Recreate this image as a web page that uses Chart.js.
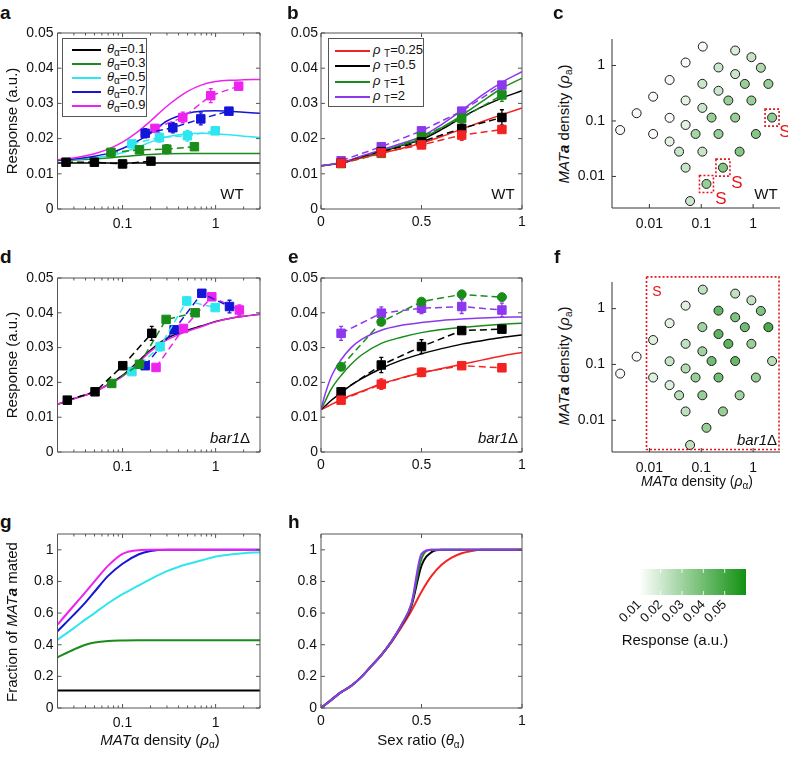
<!DOCTYPE html>
<html>
<head>
<meta charset="utf-8">
<script src="https://cdn.jsdelivr.net/npm/chart.js@4.4.1/dist/chart.umd.min.js"></script>
<style>
body { margin: 0; background: #fff; }
#fig { position: relative; width: 788px; height: 757px; overflow: hidden; font-family: "Liberation Sans", Arial, sans-serif; color: #111; }
canvas { position: absolute; }
.t { position: absolute; white-space: nowrap; font-size: 15px; line-height: 1; }
.c { transform: translate(-50%, -50%); }
.r { transform: translate(-50%, -50%) rotate(-90deg); }
.lab { font-weight: bold; font-size: 19px; }
sub { font-size: 10px; vertical-align: -3px; }
.lg { position: absolute; border: 1px solid #555; background: #fff; }
.lg .ln { position: absolute; height: 2px; }
.lg .lt { position: absolute; font-size: 13px; line-height: 1; white-space: nowrap; transform: translateY(-50%); }
.red { color: #e8141c; }
</style>
</head>
<body>
<div id="fig">
<canvas id="pa"></canvas><canvas id="pb"></canvas><canvas id="pc"></canvas>
<canvas id="pd"></canvas><canvas id="pe"></canvas><canvas id="pf"></canvas>
<canvas id="pg"></canvas><canvas id="ph"></canvas><canvas id="pbar"></canvas>

<div class="t lab" style="left:0px;top:3px">a</div>
<div class="t lab" style="left:287px;top:3px">b</div>
<div class="t lab" style="left:553px;top:3px">c</div>
<div class="t lab" style="left:0px;top:247px">d</div>
<div class="t lab" style="left:288px;top:247px">e</div>
<div class="t lab" style="left:554px;top:247px">f</div>
<div class="t lab" style="left:0px;top:512px">g</div>
<div class="t lab" style="left:288px;top:512px">h</div>

<div class="t r" style="left:11px;top:121px">Response (a.u.)</div>
<div class="t r" style="left:11px;top:365px">Response (a.u.)</div>
<div class="t r" style="left:565px;top:124px"><i>MAT<b>a</b></i> density (<i>ρ</i><sub>a</sub>)</div>
<div class="t r" style="left:565px;top:366px"><i>MAT<b>a</b></i> density (<i>ρ</i><sub>a</sub>)</div>
<div class="t r" style="left:11px;top:622px">Fraction of <i>MAT<b>a</b></i> mated</div>
<div class="t c" style="left:697px;top:482px;font-size:14px"><i>MAT</i>α density (<i>ρ</i><sub>α</sub>)</div>
<div class="t c" style="left:160px;top:741px"><i>MAT</i>α density (<i>ρ</i><sub>α</sub>)</div>
<div class="t c" style="left:421px;top:741px">Sex ratio (<i>θ</i><sub>α</sub>)</div>
<div class="t c" style="left:675px;top:639px">Response (a.u.)</div>

<div class="t c" style="left:232px;top:193px">WT</div>
<div class="t c" style="left:503px;top:193px">WT</div>
<div class="t c" style="left:766px;top:193px">WT</div>
<div class="t c" style="left:230px;top:437px"><i>bar1</i>Δ</div>
<div class="t c" style="left:498px;top:437px"><i>bar1</i>Δ</div>
<div class="t c" style="left:757px;top:439px"><i>bar1</i>Δ</div>

<div class="t c red" style="left:785px;top:131px;font-size:17px">S</div>
<div class="t c red" style="left:737px;top:182px;font-size:17px">S</div>
<div class="t c red" style="left:721px;top:198px;font-size:17px">S</div>
<div class="t c red" style="left:657px;top:291px;font-size:14px">S</div>

<div id="lega" class="lg" style="left:62px;top:38px;width:83px;height:77px"></div>
<div id="legb" class="lg" style="left:328px;top:38px;width:94px;height:67px"></div>
</div>

<script>
// ---- panel a / d : response vs MATalpha density, one curve per sex ratio theta
const thetaLabels = ['0.1', '0.3', '0.5', '0.7', '0.9'];
const thetaColors = ['#000000', '#1a8c1a', '#2ee6f0', '#1515d8', '#ee22ee'];
const densGrid = [0.02, 0.03, 0.05, 0.07, 0.1, 0.15, 0.2, 0.3, 0.5, 0.7, 1, 1.5, 2, 3];

const aFit01 = [0.0131, 0.0131, 0.0131, 0.0131, 0.0131, 0.0131, 0.0131, 0.0131, 0.0131, 0.0131, 0.0131, 0.0131, 0.0131, 0.0131];
const aFit03 = [0.0138, 0.0139, 0.0142, 0.0145, 0.0149, 0.0153, 0.0155, 0.0157, 0.0158, 0.0158, 0.0158, 0.0158, 0.0158, 0.0158];
const aFit05 = [0.0138, 0.0141, 0.0146, 0.0151, 0.0160, 0.0177, 0.0190, 0.0205, 0.0214, 0.0215, 0.0213, 0.0210, 0.0207, 0.0203];
const aFit07 = [0.0138, 0.0142, 0.0150, 0.0158, 0.0172, 0.0195, 0.0215, 0.0250, 0.0272, 0.0278, 0.0279, 0.0277, 0.0275, 0.0272];
const aFit09 = [0.0140, 0.0145, 0.0157, 0.0170, 0.0190, 0.0222, 0.0250, 0.0292, 0.0334, 0.0352, 0.0362, 0.0366, 0.0367, 0.0368];

const aX01 = [0.0247, 0.0498, 0.100, 0.202], aY01 = [0.0133, 0.0133, 0.0128, 0.0136], aE01 = [0.0004, 0.0004, 0.0004, 0.0007];
const aX03 = [0.0751, 0.152, 0.299, 0.592], aY03 = [0.0161, 0.0168, 0.0170, 0.0177], aE03 = [0.0010, 0.0010, 0.0013, 0.0005];
const aX05 = [0.126, 0.249, 0.498, 0.99], aY05 = [0.0185, 0.0203, 0.0208, 0.0222], aE05 = [0.0010, 0.0013, 0.0015, 0.0006];
const aX07 = [0.175, 0.347, 0.693, 1.39], aY07 = [0.0215, 0.0231, 0.0256, 0.0278], aE07 = [0.0013, 0.0015, 0.0017, 0.0005];
const aX09 = [0.223, 0.444, 0.887, 1.77], aY09 = [0.0229, 0.0260, 0.0322, 0.0349], aE09 = [0.0010, 0.0015, 0.0020, 0.0010];
const aXE03 = [0.006, 0.012, 0.025, 0.04];
const aXE05 = [0.010, 0.020, 0.040, 0.08];
const aXE07 = [0.014, 0.030, 0.050, 0.10];
const aXE09 = [0.015, 0.030, 0.060, 0.12];

const dFit01 = [0.0137, 0.0153, 0.0173, 0.0194, 0.0220, 0.0262, 0.0293, 0.0327, 0.0350, 0.0362, 0.0375, 0.0385, 0.0390, 0.0396];
const dFit09 = [0.0137, 0.0153, 0.0173, 0.0193, 0.0217, 0.0258, 0.0289, 0.0322, 0.0347, 0.0360, 0.0374, 0.0385, 0.0390, 0.0396];

const dX01 = [0.0255, 0.0506, 0.1005, 0.206], dY01 = [0.0149, 0.0173, 0.0248, 0.0341], dE01 = [0.0005, 0.0005, 0.0008, 0.0020];
const dX03 = [0.0765, 0.152, 0.294, 0.603], dY03 = [0.0197, 0.0252, 0.0381, 0.0400], dE03 = [0.0008, 0.0010, 0.0008, 0.0010];
const dX05 = [0.126, 0.253, 0.490, 0.99], dY05 = [0.0231, 0.0303, 0.0434, 0.0415], dE05 = [0.0008, 0.0012, 0.0012, 0.0008];
const dX07 = [0.175, 0.358, 0.711, 1.41], dY07 = [0.0248, 0.0351, 0.0456, 0.0418], dE07 = [0.0005, 0.0010, 0.0008, 0.0018];
const dX09 = [0.229, 0.451, 0.910, 1.80], dY09 = [0.0243, 0.0355, 0.0446, 0.0408], dE09 = [0.0005, 0.0008, 0.0008, 0.0015];

// ---- panel b / e : response vs sex ratio, one curve per total density rho_T
const rhoLabels = ['0.25', '0.5', '1', '2'];
const rhoColors = ['#f52222', '#000000', '#1a8c1a', '#8c38ee'];
const ratioPts = [0.1, 0.3, 0.5, 0.7, 0.9];
const bGrid = [0, 0.1, 0.2, 0.3, 0.4, 0.5, 0.6, 0.7, 0.8, 0.9, 1];
const bFit025 = [0.0123, 0.0130, 0.0145, 0.0158, 0.0172, 0.0187, 0.0206, 0.0227, 0.0248, 0.0268, 0.0287];
const bFit05 = [0.0123, 0.0131, 0.0148, 0.0163, 0.0180, 0.0197, 0.0226, 0.0260, 0.0290, 0.0315, 0.0336];
const bFit1 = [0.0123, 0.0131, 0.0149, 0.0165, 0.0182, 0.0200, 0.0231, 0.0266, 0.0305, 0.0343, 0.0372];
const bFit2 = [0.0123, 0.0132, 0.0150, 0.0168, 0.0186, 0.0206, 0.0240, 0.0280, 0.0323, 0.0360, 0.0390];
const bY025 = [0.0130, 0.0160, 0.0182, 0.0210, 0.0226], bE025 = [0.0004, 0.0006, 0.0008, 0.0015, 0.0008];
const bY05 = [0.0130, 0.0163, 0.0191, 0.0229, 0.0260], bE05 = [0.0004, 0.0006, 0.0008, 0.0012, 0.0022];
const bY1 = [0.0129, 0.0158, 0.0205, 0.0258, 0.0324], bE1 = [0.0004, 0.0006, 0.0008, 0.0010, 0.0018];
const bY2 = [0.0137, 0.0177, 0.0222, 0.0278, 0.0352], bE2 = [0.0005, 0.0006, 0.0008, 0.0008, 0.0008];

const eGrid = [0, 0.02, 0.05, 0.1, 0.15, 0.2, 0.3, 0.4, 0.5, 0.6, 0.7, 0.8, 0.9, 1];
const eFit025 = [0.0122, 0.0127, 0.0136, 0.0150, 0.0163, 0.0174, 0.0196, 0.0213, 0.0227, 0.0240, 0.0252, 0.0264, 0.0276, 0.0286];
const eFit05 = [0.0122, 0.0132, 0.0148, 0.0170, 0.0192, 0.0210, 0.0240, 0.0264, 0.0282, 0.0297, 0.0310, 0.0320, 0.0329, 0.0336];
const eFit1 = [0.0122, 0.0145, 0.0180, 0.0220, 0.0252, 0.0278, 0.0312, 0.0330, 0.0343, 0.0352, 0.0358, 0.0363, 0.0367, 0.0370];
const eFit2 = [0.0122, 0.0165, 0.0215, 0.0265, 0.0300, 0.0323, 0.0350, 0.0364, 0.0372, 0.0378, 0.0382, 0.0385, 0.0387, 0.0388];
const eY025 = [0.0149, 0.0195, 0.0229, 0.0248, 0.0242], eE025 = [0.0006, 0.0015, 0.0012, 0.0005, 0.0004];
const eY05 = [0.0173, 0.0250, 0.0303, 0.0349, 0.0353], eE05 = [0.0008, 0.0022, 0.0020, 0.0008, 0.0008];
const eY1 = [0.0245, 0.0374, 0.0432, 0.0453, 0.0445], eE1 = [0.0008, 0.0008, 0.0008, 0.0008, 0.0008];
const eY2 = [0.0341, 0.0399, 0.0413, 0.0418, 0.0408], eE2 = [0.0020, 0.0018, 0.0015, 0.0020, 0.0020];

// ---- panels c / f : density plane, colour = response
const alphaDensity = [0.107, 0.451, 0.927, 0.0499, 0.215, 0.451, 1.41, 0.0245, 0.105, 0.692, 1.97, 0.0118,
  0.215, 0.0499, 0.333, 0.927, 0.105, 0.00567, 0.0245, 0.158, 0.451, 2.32, 0.00273, 0.0499, 0.0118, 0.0777,
  0.215, 1.13, 0.0245, 0.0374, 0.105, 0.549, 0.0499, 0.262, 0.126, 0.0609];
const aDensity = [2.19, 1.86, 1.41, 1.13, 0.92, 0.70, 0.91, 0.548, 0.467, 0.465, 0.465, 0.274,
  0.35, 0.234, 0.234, 0.234, 0.172, 0.138, 0.114, 0.115, 0.115, 0.115, 0.0686, 0.0847, 0.0583, 0.0583,
  0.0583, 0.0583, 0.0426, 0.0280, 0.0280, 0.0280, 0.0144, 0.0144, 0.00733, 0.0036];
const wtResponse = [0.012, 0.018, 0.022, 0.012, 0.021, 0.021, 0.027, 0.012, 0.021, 0.032, 0.032, 0.012,
  0.021, 0.016, 0.032, 0.032, 0.021, 0.012, 0.012, 0.032, 0.032, 0.033, 0.012, 0.016, 0.012, 0.029,
  0.032, 0.036, 0.016, 0.022, 0.022, 0.036, 0.022, 0.036, 0.032, 0.021];
const bar1Response = [0.023, 0.023, 0.023, 0.017, 0.043, 0.037, 0.037, 0.016, 0.030, 0.040, 0.048, 0.017,
  0.044, 0.023, 0.044, 0.032, 0.030, 0.012, 0.022, 0.040, 0.042, 0.025, 0.012, 0.026, 0.017, 0.032,
  0.040, 0.032, 0.017, 0.025, 0.032, 0.030, 0.024, 0.032, 0.032, 0.023];
const wtSelected = [21, 33, 34];
const bar1Region = [0.0088, 3.3, 0.0030, 3.7];
const cbLow = 0.01, cbHigh = 0.06;
const cbTicks = [0.01, 0.02, 0.03, 0.04, 0.05];

// ---- panel g / h : fraction of MATa mated
const gGrid = [0.02, 0.03, 0.04, 0.05, 0.07, 0.1, 0.15, 0.2, 0.3, 0.5, 0.7, 1, 1.5, 2, 3];
const gTheta01 = [0.11, 0.11, 0.11, 0.11, 0.11, 0.11, 0.11, 0.11, 0.11, 0.11, 0.11, 0.11, 0.11, 0.11, 0.11];
const gTheta03 = [0.320, 0.370, 0.400, 0.414, 0.424, 0.427, 0.428, 0.428, 0.428, 0.428, 0.428, 0.428, 0.428, 0.428, 0.428];
const gTheta05 = [0.432, 0.505, 0.560, 0.600, 0.662, 0.720, 0.775, 0.815, 0.865, 0.910, 0.932, 0.958, 0.972, 0.979, 0.985];
const gTheta07 = [0.485, 0.590, 0.668, 0.735, 0.835, 0.912, 0.972, 0.992, 1, 1, 1, 1, 1, 1, 1];
const gTheta09 = [0.527, 0.648, 0.733, 0.800, 0.900, 0.975, 0.998, 1, 1, 1, 1, 1, 1, 1, 1];

const hGrid = [0, 0.05, 0.1, 0.15, 0.2, 0.25, 0.3, 0.35, 0.4, 0.45, 0.5, 0.55, 0.6, 0.65, 0.7, 0.75, 0.8, 0.9, 1];
const hRho025 = [0, 0.05, 0.10, 0.14, 0.195, 0.265, 0.335, 0.415, 0.51, 0.615, 0.735, 0.835, 0.905, 0.95, 0.978, 0.993, 1, 1, 1];
const hRho05 = [0, 0.05, 0.10, 0.14, 0.195, 0.265, 0.335, 0.42, 0.522, 0.645, 0.900, 0.985, 1, 1, 1, 1, 1, 1, 1];
const hRho1 = [0, 0.05, 0.10, 0.14, 0.195, 0.265, 0.335, 0.42, 0.525, 0.655, 0.945, 1, 1, 1, 1, 1, 1, 1, 1];
const hRho2 = [0, 0.05, 0.10, 0.14, 0.195, 0.265, 0.335, 0.42, 0.525, 0.660, 0.975, 1, 1, 1, 1, 1, 1, 1, 1];

// axis tick positions
const logTicks = [0.02, 0.03, 0.04, 0.05, 0.06, 0.07, 0.08, 0.09, 0.1, 0.2, 0.3, 0.4, 0.5, 0.6, 0.7, 0.8, 0.9, 1, 2, 3];
const respTicks = [0, 0.01, 0.02, 0.03, 0.04, 0.05];
const fracTicks = [0, 0.2, 0.4, 0.6, 0.8, 1];
const decadeTicks = [0.01, 0.1, 1];

const FONT = '"Liberation Sans", Arial, sans-serif';
Chart.defaults.font.family = FONT;
Chart.defaults.font.size = 14;
Chart.defaults.color = '#111';

function responseColor(r) {
    const t = Math.min(1, Math.max(0, (r - cbLow) / (cbHigh - cbLow)));
    return 'rgb(' + Math.round(255 - t * 237) + ',' + Math.round(255 - t * 110) + ',' + Math.round(255 - t * 237) + ')';
}

// box + inward tick marks, MATLAB style
const frame = {
    id: 'frame',
    afterDatasetsDraw(chart, args, o) {
        const ctx = chart.ctx, a = chart.chartArea;
        const xs = chart.scales.x, ys = chart.scales.y;
        ctx.save();
        ctx.strokeStyle = o.color || '#555';
        ctx.lineWidth = 1;
        ctx.beginPath();
        if (o.box) {
            ctx.rect(a.left, a.top, a.right - a.left, a.bottom - a.top);
        } else {
            ctx.moveTo(a.left, a.top);
            ctx.lineTo(a.left, a.bottom);
            ctx.lineTo(a.right, a.bottom);
        }
        xs.ticks.forEach(t => {
            const p = xs.getPixelForValue(t.value), len = t.label ? 4 : 2.5;
            ctx.moveTo(p, a.bottom); ctx.lineTo(p, a.bottom - len);
            if (o.box) { ctx.moveTo(p, a.top); ctx.lineTo(p, a.top + len); }
        });
        ys.ticks.forEach(t => {
            const p = ys.getPixelForValue(t.value), len = t.label ? 4 : 2.5;
            ctx.moveTo(a.left, p); ctx.lineTo(a.left + len, p);
            if (o.box) { ctx.moveTo(a.right, p); ctx.lineTo(a.right - len, p); }
        });
        ctx.stroke();
        ctx.restore();
    }
};

const errorBars = {
    id: 'errorBars',
    beforeDatasetsDraw(chart) {
        const ctx = chart.ctx, xs = chart.scales.x, ys = chart.scales.y;
        chart.data.datasets.forEach(ds => {
            if (!ds.errY) return;
            ctx.save();
            ctx.strokeStyle = ds.borderColor;
            ctx.lineWidth = 1.3;
            ctx.beginPath();
            ds.data.forEach((p, j) => {
                const px = xs.getPixelForValue(p.x), py = ys.getPixelForValue(p.y);
                const y1 = ys.getPixelForValue(p.y - ds.errY[j]), y2 = ys.getPixelForValue(p.y + ds.errY[j]);
                ctx.moveTo(px, y1); ctx.lineTo(px, y2);
                ctx.moveTo(px - 2, y1); ctx.lineTo(px + 2, y1);
                ctx.moveTo(px - 2, y2); ctx.lineTo(px + 2, y2);
                if (ds.errX && ds.errX[j]) {
                    ctx.moveTo(xs.getPixelForValue(p.x - ds.errX[j]), py);
                    ctx.lineTo(xs.getPixelForValue(p.x + ds.errX[j]), py);
                }
            });
            ctx.stroke();
            ctx.restore();
        });
    }
};

// red dotted selection boxes (panels c and f)
const selection = {
    id: 'selection',
    afterDatasetsDraw(chart, args, o) {
        const ctx = chart.ctx;
        ctx.save();
        ctx.strokeStyle = '#e8141c';
        ctx.lineWidth = 1.6;
        ctx.setLineDash([2, 2]);
        const meta = chart.getDatasetMeta(0);
        (o.points || []).forEach(i => {
            const el = meta.data[i];
            ctx.strokeRect(el.x - 7, el.y - 8.5, 14, 17);
        });
        if (o.region) {
            const xs = chart.scales.x, ys = chart.scales.y;
            const l = xs.getPixelForValue(o.region[0]), r = xs.getPixelForValue(o.region[1]);
            const b = ys.getPixelForValue(o.region[2]), t = ys.getPixelForValue(o.region[3]);
            ctx.strokeRect(l, t, r - l - 1, b - t);
        }
        ctx.restore();
    }
};

const colourBar = {
    id: 'colourBar',
    beforeDatasetsDraw(chart) {
        const ctx = chart.ctx, a = chart.chartArea, xs = chart.scales.x;
        const g = ctx.createLinearGradient(xs.getPixelForValue(cbLow), 0, xs.getPixelForValue(cbHigh), 0);
        g.addColorStop(0, responseColor(cbLow));
        g.addColorStop(1, responseColor(cbHigh));
        ctx.save();
        ctx.fillStyle = g;
        ctx.fillRect(a.left, a.top, a.right - a.left, a.bottom - a.top);
        ctx.strokeStyle = 'rgba(255,255,255,0.85)';
        ctx.beginPath();
        xs.ticks.forEach(t => {
            const p = xs.getPixelForValue(t.value);
            ctx.moveTo(p, a.top); ctx.lineTo(p, a.top + 4);
            ctx.moveTo(p, a.bottom); ctx.lineTo(p, a.bottom - 4);
        });
        ctx.stroke();
        ctx.restore();
    }
};

function axis(cfg, horizontal, size) {
    return {
        type: cfg.type, min: cfg.min, max: cfg.max,
        position: horizontal ? 'bottom' : 'left',
        display: !cfg.hidden,
        grid: { display: false, drawTicks: false },
        border: { display: false },
        afterBuildTicks: s => { s.ticks = cfg.ticks.map(v => ({ value: v })); },
        afterFit: s => {
            if (horizontal) { s.height = size; s.paddingLeft = 0; s.paddingRight = 0; }
            else { s.width = size; s.paddingTop = 0; s.paddingBottom = 0; }
        },
        ticks: {
            autoSkip: false, maxRotation: cfg.rot || 0, minRotation: cfg.rot || 0,
            padding: cfg.pad, font: { size: cfg.size || 14 },
            callback: v => cfg.labels.includes(v) ? String(v) : ''
        }
    };
}

// box = [x, y, w, h] of the canvas, area = [left, top, right, bottom] of the plot
function makeChart(id, box, area, datasets, xCfg, yCfg, opts, plugins) {
    const cv = document.getElementById(id);
    cv.width = box[2];
    cv.height = box[3];
    cv.style.left = box[0] + 'px';
    cv.style.top = box[1] + 'px';
    return new Chart(cv, {
        type: 'line',
        data: { datasets: datasets },
        options: {
            responsive: false, animation: false, devicePixelRatio: 1,
            layout: { padding: { left: yCfg.hidden ? area[0] - box[0] : 0, top: area[1] - box[1], right: box[0] + box[2] - area[2], bottom: 0 } },
            scales: { x: axis(xCfg, true, box[1] + box[3] - area[3]), y: axis(yCfg, false, area[0] - box[0]) },
            plugins: Object.assign({ legend: { display: false }, tooltip: { enabled: false } }, opts)
        },
        plugins: plugins
    });
}

function pts(xs, ys) { return xs.map((x, i) => ({ x: x, y: ys[i] })); }
function fit(xs, ys, color, order, width) {
    return { data: pts(xs, ys), borderColor: color, borderWidth: width || 1.5, pointRadius: 0,
        cubicInterpolationMode: 'monotone', order: order };
}
function measured(xs, ys, errY, color, shape, errX) {
    return { data: pts(xs, ys), borderColor: color, backgroundColor: color, borderWidth: 1.5,
        borderDash: [7, 4], pointStyle: shape || 'rect', pointRadius: shape === 'circle' ? 4.5 : 6,
        pointBackgroundColor: color, pointBorderColor: color, pointBorderWidth: 1,
        errY: errY, errX: errX, order: 1 };
}

const logX = { type: 'logarithmic', min: 0.02, max: 3, ticks: logTicks, labels: [0.1, 1], pad: 7 };
const linX = { type: 'linear', min: 0, max: 1, ticks: [0, 0.5, 1], labels: [0, 0.5, 1], pad: 7 };
const respY = { type: 'linear', min: 0, max: 0.05, ticks: respTicks, labels: respTicks, pad: 4 };
const fracY = { type: 'linear', min: 0, max: 1.1, ticks: fracTicks, labels: fracTicks, pad: 4 };
const planeX = { type: 'logarithmic', min: 0.0019, max: 3.3, ticks: decadeTicks, labels: decadeTicks, pad: 8 };
const planeY = { type: 'logarithmic', min: 0.0027, max: 3.0, ticks: decadeTicks, labels: decadeTicks, pad: 7 };
const boxed = { frame: { box: true } };

// a
makeChart('pa', [18, 20, 252, 220], [57.5, 33, 260, 209], [
    measured(aX01, aY01, aE01, thetaColors[0]),
    measured(aX03, aY03, aE03, thetaColors[1], 'rect', aXE03),
    measured(aX05, aY05, aE05, thetaColors[2], 'rect', aXE05),
    measured(aX07, aY07, aE07, thetaColors[3], 'rect', aXE07),
    measured(aX09, aY09, aE09, thetaColors[4], 'rect', aXE09),
    fit(densGrid, aFit01, thetaColors[0], 6),
    fit(densGrid, aFit03, thetaColors[1], 5),
    fit(densGrid, aFit05, thetaColors[2], 4),
    fit(densGrid, aFit07, thetaColors[3], 3),
    fit(densGrid, aFit09, thetaColors[4], 2)
], logX, respY, boxed, [errorBars, frame]);

// b
makeChart('pb', [280, 20, 252, 220], [321, 33, 522, 209], [
    measured(ratioPts, bY025, bE025, rhoColors[0]),
    measured(ratioPts, bY05, bE05, rhoColors[1]),
    measured(ratioPts, bY1, bE1, rhoColors[2]),
    measured(ratioPts, bY2, bE2, rhoColors[3]),
    fit(bGrid, bFit025, rhoColors[0], 5),
    fit(bGrid, bFit05, rhoColors[1], 4),
    fit(bGrid, bFit1, rhoColors[2], 3),
    fit(bGrid, bFit2, rhoColors[3], 2)
], Object.assign({}, linX, { pad: 5 }), Object.assign({}, respY, { pad: 3 }), boxed, [errorBars, frame]);

// c
makeChart('pc', [575, 25, 213, 215], [612, 39, 780, 208], [{
    data: pts(alphaDensity, aDensity), showLine: false, pointRadius: 4.5, pointBorderWidth: 1,
    pointBorderColor: '#1c1c1c', pointBackgroundColor: wtResponse.map(responseColor)
}], planeX, planeY, { frame: { box: false, color: '#333' }, selection: { points: wtSelected } }, [frame, selection]);

// d
makeChart('pd', [18, 265, 252, 220], [57.5, 278, 260, 452], [
    measured(dX01, dY01, dE01, thetaColors[0]),
    measured(dX03, dY03, dE03, thetaColors[1]),
    measured(dX05, dY05, dE05, thetaColors[2]),
    measured(dX07, dY07, dE07, thetaColors[3]),
    measured(dX09, dY09, dE09, thetaColors[4]),
    fit(densGrid, dFit01, thetaColors[0], 3),
    fit(densGrid, dFit09, thetaColors[4], 2)
], logX, respY, boxed, [errorBars, frame]);

// e
makeChart('pe', [280, 265, 252, 220], [321, 278, 522, 452], [
    measured(ratioPts, eY025, eE025, rhoColors[0]),
    measured(ratioPts, eY05, eE05, rhoColors[1]),
    measured(ratioPts, eY1, eE1, rhoColors[2], 'circle'),
    measured(ratioPts, eY2, eE2, rhoColors[3]),
    fit(eGrid, eFit025, rhoColors[0], 5),
    fit(eGrid, eFit05, rhoColors[1], 4),
    fit(eGrid, eFit1, rhoColors[2], 3),
    fit(eGrid, eFit2, rhoColors[3], 2)
], Object.assign({}, linX, { pad: 5 }), Object.assign({}, respY, { pad: 3 }), boxed, [errorBars, frame]);

// f
makeChart('pf', [575, 268, 213, 215], [612, 282, 780, 452], [{
    data: pts(alphaDensity, aDensity), showLine: false, pointRadius: 4.5, pointBorderWidth: 1,
    pointBorderColor: '#1c1c1c', pointBackgroundColor: bar1Response.map(responseColor)
}], planeX, planeY, { frame: { box: false, color: '#333' }, selection: { region: bar1Region } }, [frame, selection]);

// g
makeChart('pg', [18, 520, 252, 215], [57.5, 534, 260, 708], [
    fit(gGrid, gTheta01, thetaColors[0], 6, 2),
    fit(gGrid, gTheta03, thetaColors[1], 5, 2),
    fit(gGrid, gTheta05, thetaColors[2], 4, 2),
    fit(gGrid, gTheta07, thetaColors[3], 3, 2),
    fit(gGrid, gTheta09, thetaColors[4], 2, 2)
], logX, fracY, boxed, [frame]);

// h
makeChart('ph', [280, 520, 252, 215], [321, 534, 522, 708], [
    fit(hGrid, hRho025, rhoColors[0], 5, 2),
    fit(hGrid, hRho05, rhoColors[1], 4, 2),
    fit(hGrid, hRho1, rhoColors[2], 3, 2),
    fit(hGrid, hRho2, rhoColors[3], 2, 2)
], Object.assign({}, linX, { pad: 5 }), fracY, boxed, [frame]);

// colour bar
makeChart('pbar', [570, 560, 200, 72], [594, 569, 746, 595], [],
    { type: 'linear', min: 0, max: 0.06, ticks: cbTicks, labels: cbTicks, pad: 2, rot: 45, size: 13 },
    { type: 'linear', min: 0, max: 1, ticks: [], labels: [], hidden: true },
    {}, [colourBar]);

// legends
function legend(id, names, colors, sym, sub, lineX, lineW, textX, rowY, rowH) {
    const box = document.getElementById(id);
    names.forEach((n, i) => {
        const y = rowY + i * rowH;
        const ln = document.createElement('div');
        ln.className = 'ln';
        ln.style.cssText = 'left:' + lineX + 'px;top:' + (y - 1) + 'px;width:' + lineW + 'px;background:' + colors[i];
        const tx = document.createElement('div');
        tx.className = 'lt';
        tx.style.cssText = 'left:' + textX + 'px;top:' + y + 'px';
        tx.innerHTML = '<i>' + sym + '</i>' + sub + '=' + n;
        box.appendChild(ln);
        box.appendChild(tx);
    });
}
legend('lega', thetaLabels, thetaColors, 'θ', '<sub>α</sub>', 9, 29, 44, 11, 14);
legend('legb', rhoLabels, rhoColors, 'ρ', ' <sub>T</sub>', 6, 35, 44, 12, 15.3);
</script>
</body>
</html>
